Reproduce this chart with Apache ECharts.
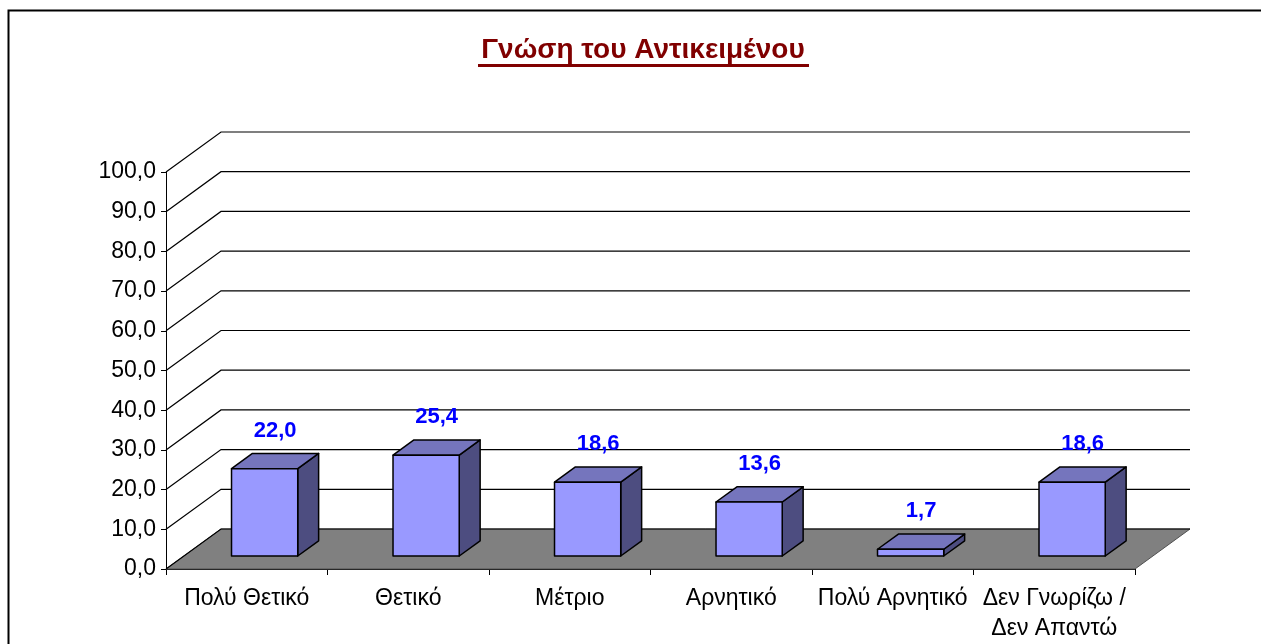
<!DOCTYPE html>
<html>
<head>
<meta charset="utf-8">
<style>
  html, body { margin: 0; padding: 0; background: #fff; }
  #chart { width: 1261px; height: 644px; }
</style>
<script src="https://cdn.jsdelivr.net/npm/echarts@6/dist/echarts.min.js"></script>
</head>
<body>
<div id="chart"></div>
<script>
const categories = ['Πολύ Θετικό', 'Θετικό', 'Μέτριο', 'Αρνητικό', 'Πολύ Αρνητικό', 'Δεν Γνωρίζω /\nΔεν Απαντώ']
const values = [22.0, 25.4, 18.6, 13.6, 1.7, 18.6]
const yTicks = [0, 10, 20, 30, 40, 50, 60, 70, 80, 90, 100]

const FONT = '"Liberation Sans", Arial, sans-serif'
// depth of the 3d box (back wall offset)
const DX = 55
const DY = 40
const BAR_FRONT = 0.325 // where the bar front sits in the depth
const BAR_DEPTH = 0.38

const fmt = v => v.toFixed(1).replace('.', ',')

const myChart = echarts.init(document.getElementById('chart'))

function renderWall(params, api) {
  const v = api.value(1)
  const y = api.coord([0, v])[1]
  const cs = params.coordSys
  const x0 = cs.x
  const x1 = cs.x + cs.width
  const children = []
  if (v === 0) {
    children.push({
      type: 'polygon',
      shape: { points: [[x0, y], [x1, y], [x1 + DX, y - DY], [x0 + DX, y - DY]] },
      style: { fill: '#808080', stroke: '#505050', lineWidth: 1 },
    })
  }
  children.push({
    type: 'polyline',
    shape: { points: [[x0, y], [x0 + DX, y - DY], [x1 + DX, y - DY]] },
    style: { stroke: '#000', lineWidth: 1.2, fill: null },
  })
  return { type: 'group', children }
}

function renderBar(params, api) {
  const i = api.value(0)
  const v = api.value(1)
  const base = api.coord([i, 0])
  const top = api.coord([i, v])
  const h = base[1] - top[1]
  const w = api.size([1, 0])[0] * 0.41
  const bx = DX * BAR_DEPTH
  const by = DY * BAR_DEPTH
  const fx = base[0] + DX * BAR_FRONT - w / 2
  const fy = base[1] - DY * BAR_FRONT
  const edge = { stroke: '#000', lineWidth: 1.5, lineJoin: 'round' }
  return {
    type: 'group',
    children: [
      {
        type: 'polygon',
        shape: { points: [[fx + w, fy - h], [fx + w + bx, fy - h - by], [fx + w + bx, fy - by], [fx + w, fy]] },
        style: Object.assign({ fill: '#4D4D80' }, edge),
      },
      {
        type: 'polygon',
        shape: { points: [[fx, fy - h], [fx + w, fy - h], [fx + w + bx, fy - h - by], [fx + bx, fy - h - by]] },
        style: Object.assign({ fill: '#7575BD' }, edge),
      },
      {
        type: 'rect',
        shape: { x: fx, y: fy - h, width: w, height: h },
        style: Object.assign({ fill: '#9999FF' }, edge),
      },
      {
        type: 'text',
        x: fx + w / 2 + bx / 2,
        y: fy - h - by - 23,
        style: {
          text: fmt(v),
          fill: '#0000FF',
          font: 'bold 22px ' + FONT,
          align: 'center',
          verticalAlign: 'middle',
        },
      },
    ],
  }
}

const option = {
  backgroundColor: '#fff',
  animation: false,
  grid: { left: 166, right: 126, top: 172, bottom: 74 },
  graphic: [
    {
      type: 'rect',
      shape: { x: 8.5, y: 10.5, width: 1300, height: 700 },
      style: { fill: null, stroke: '#000', lineWidth: 2 },
    },
    {
      type: 'text',
      x: 643,
      y: 50,
      style: {
        text: 'Γνώση του Αντικειμένου',
        fill: '#800000',
        font: 'bold 28px ' + FONT,
        align: 'center',
        verticalAlign: 'middle',
      },
    },
    {
      type: 'rect',
      shape: { x: 478, y: 64, width: 331, height: 3 },
      style: { fill: '#800000' },
    },
  ],
  xAxis: {
    type: 'category',
    data: categories,
    boundaryGap: true,
    axisLine: { lineStyle: { color: '#000', width: 1 } },
    axisTick: { show: true, length: 6, interval: 0, lineStyle: { color: '#000' } },
    axisLabel: { interval: 0, color: '#000', fontSize: 23, fontFamily: FONT, margin: 15, lineHeight: 30 },
    splitLine: { show: false },
  },
  yAxis: {
    type: 'value',
    min: 0,
    max: 100,
    interval: 10,
    axisLine: { show: true, lineStyle: { color: '#000', width: 1 } },
    axisTick: { show: true, length: 5, lineStyle: { color: '#000' } },
    axisLabel: { color: '#000', fontSize: 23, fontFamily: FONT, margin: 10, formatter: v => fmt(v) },
    splitLine: { show: false },
  },
  series: [
    {
      type: 'custom',
      name: 'walls',
      renderItem: renderWall,
      data: yTicks.map(v => [0, v]),
      encode: { x: 0, y: 1 },
      z: 1,
      silent: true,
    },
    {
      type: 'custom',
      name: 'bars',
      renderItem: renderBar,
      data: values.map((v, i) => [i, v]),
      encode: { x: 0, y: 1 },
      z: 3,
    },
  ],
}

myChart.setOption(option)
</script>
</body>
</html>
